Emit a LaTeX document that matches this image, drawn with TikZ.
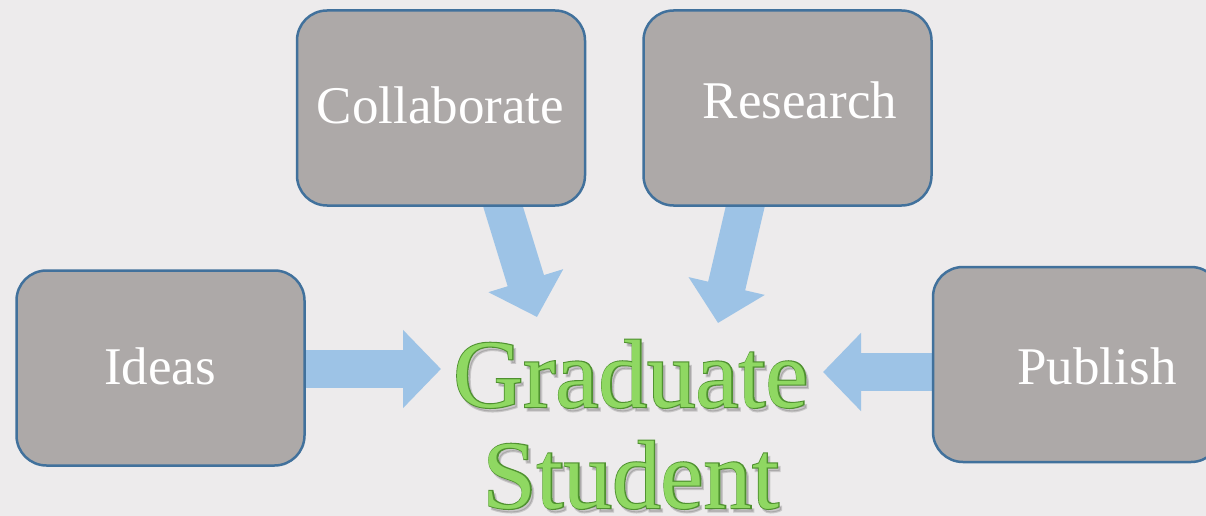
\documentclass[tikz,border=0pt]{standalone}
\usepackage{fontspec}
\setmainfont{Liberation Serif}
\newfontfamily\gradbold[FakeBold=2.2]{Liberation Serif}
\usetikzlibrary{arrows.meta}
\definecolor{bgc}{HTML}{EDEBEC}
\definecolor{boxc}{HTML}{ADA9A8}
\definecolor{edgec}{HTML}{41719C}
\definecolor{arrc}{HTML}{9DC3E6}
\definecolor{gfill}{HTML}{8FD862}
\definecolor{gdark}{HTML}{4F9130}
\pgfdeclarelayer{bg}
\pgfdeclarelayer{arr}
\pgfsetlayers{bg,arr,main}
\begin{document}
\begin{tikzpicture}[x=1pt,y=-1pt,
  box/.style={draw=edgec, line width=2.5pt, fill=boxc, rounded corners=30pt,
    minimum width=288pt, minimum height=195pt, inner sep=0pt},
  lbl/.style={text=white, inner sep=0pt, font=\fontsize{53}{60}\selectfont},
  bigarrow/.style={draw=arrc, line width=38pt, -{Triangle[width=76pt,length=38pt]}},
  gradtxt/.style={anchor=base, inner sep=0pt, font=\fontsize{97}{110}\selectfont},
  gradout/.style={anchor=base, inner sep=0pt, font=\fontsize{97}{110}\gradbold, text=gdark},
  gradshadow/.style={gradout, text=black, text opacity=0.15}
]
\useasboundingbox (0,0) rectangle (1206,516);
\begin{pgfonlayer}{bg}
  \fill[bgc] (0,0) rectangle (1206,516);
\end{pgfonlayer}

% boxes
\node[box] (collab) at (441,108) {};
\node[box] (research) at (787.5,108) {};
\node[box] (ideas) at (160.5,368) {};
\node[box] (publish) at (1077,364.5) {};

\node[lbl] (collabT) at ([shift={(-0.5,-2.5)}]collab.center) {Collaborate};
\node[lbl] (researchT) at ([shift={(12.5,-7.5)}]research.center) {Research};
\node[lbl] (ideasT) at ([shift={(-0.5,-1.5)}]ideas.center) {Ideas};
\node[lbl] (publishT) at ([shift={(20,2)}]publish.center) {Publish};

% central text
\node[gradshadow] (gradAs) at (633.5,410.5) {Graduate};
\node[gradshadow] (gradBs) at (633.5,511.5) {Student};
\node[gradout] (gradAo) at (631,407) {Graduate};
\node[gradout] (gradBo) at (631,508) {Student};
\node[gradtxt, text=gfill] (gradA) at (631,407) {Graduate};
\node[gradtxt, text=gfill] (gradB) at (631,508) {Student};

% arrow tips
\coordinate (tI) at (441,369);
\coordinate (tP) at (823,372);
\coordinate (tC) at (537,317);
\coordinate (tR) at (718,323);

\begin{pgfonlayer}{arr}
  \draw[bigarrow] ([xshift=-10pt]ideas.east |- tI) -- (tI);
  \draw[bigarrow] ([xshift=10pt]publish.west |- tP) -- (tP);
  \draw[bigarrow] ([shift={(59,-10)}]collab.south) -- (tC);
  \draw[bigarrow] ([shift={(-40,-10)}]research.south) -- (tR);
\end{pgfonlayer}
\end{tikzpicture}
\end{document}
